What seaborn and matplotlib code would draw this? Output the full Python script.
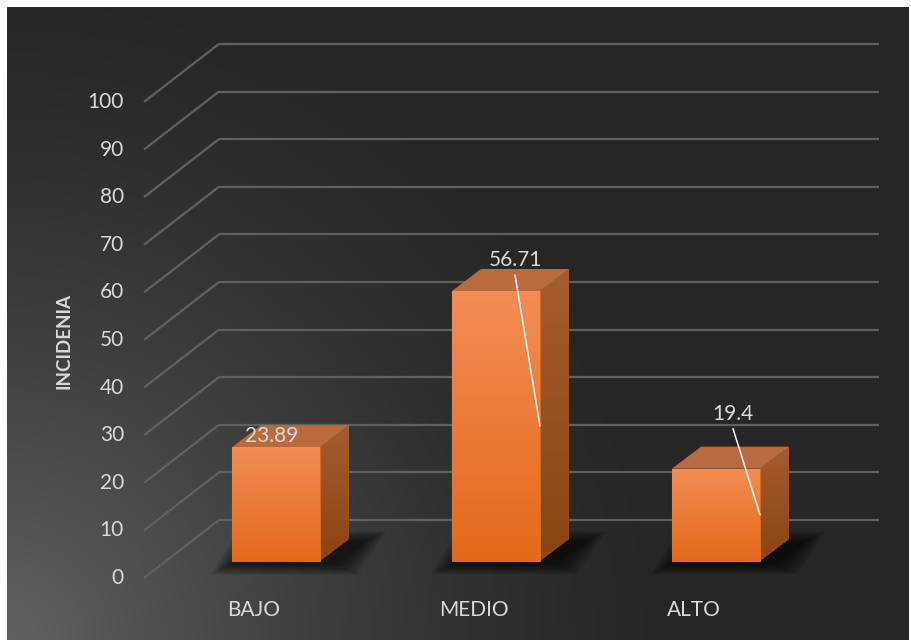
import numpy as np
import matplotlib
matplotlib.use("Agg")
import matplotlib.pyplot as plt
import seaborn as sns
from matplotlib.patches import Polygon

# ---- data -------------------------------------------------------------
categories = ["BAJO", "MEDIO", "ALTO"]
incidencia = [23.89, 56.71, 19.4]
y_ticks = [0, 10, 20, 30, 40, 50, 60, 70, 80, 90, 100]
y_title = "INCIDENIA"

# label placement (pixel offsets from the top-front centre of each bar)
label_offsets = [(-4, 11), (19, 31), (17, 55)]
label_leaders = [False, True, True]

# ---- style ------------------------------------------------------------
sns.set_theme(style="white")
plt.rcParams["font.family"] = ["Lato", "DejaVu Sans"]

W, H, DPI = 911, 640, 100
TEXT = "#d9d9d9"
GRID = "#606060"

fig = plt.figure(figsize=(W / DPI, H / DPI), dpi=DPI, facecolor="white")

# dark panel with a soft light glow in the lower-left corner
bg = fig.add_axes([7 / W, 0, 902 / W, 633 / H])
yy, xx = np.mgrid[0:633, 0:902]
r = np.hypot(xx, 632 - yy)
t = np.clip(1 - r / 680.0, 0, 1) ** 1.5
g = (38 + 60 * t) / 255.0
bg.imshow(np.dstack([g, g, g]), aspect="auto", interpolation="bilinear")
bg.set_axis_off()

# main drawing axes spanning the figure
ax = fig.add_axes([0, 0, 1, 1])
ax.patch.set_alpha(0)

sns.barplot(x=categories, y=incidencia, width=0.4, color="#f07a2a",
            saturation=1, errorbar=None, ax=ax, zorder=6,
            edgecolor="#d8661c", linewidth=0.8)

# linear mapping: category step 220 px, value unit 4.761 px, baseline 79 px
STEP, VPX, BASE, X0 = 220.0, 4.761, 79.0, 276.0
ax.set_xlim(-X0 / STEP, (W - X0) / STEP)
ax.set_ylim(-BASE / VPX, (H - BASE) / VPX)
ax.set_axis_off()

# pixel -> data conversions
ux = 1.0 / STEP
uy = 1.0 / VPX

# depth offsets (pixels) relative to the bar front plane
FRONT = (-22, -17)
BACK = (53, 41)
DEPTH = (29, 22)

x_left, x_right = -0.5, len(categories) - 0.5

# back wall grid lines and left wall diagonals
for v in y_ticks:
    ax.plot([x_left + BACK[0] * ux, x_right + BACK[0] * ux],
            [v + BACK[1] * uy] * 2, color=GRID, lw=1.6, zorder=1,
            solid_capstyle="butt")
    ax.plot([x_left + FRONT[0] * ux, x_left + BACK[0] * ux],
            [v + FRONT[1] * uy, v + BACK[1] * uy], color=GRID, lw=1.6,
            zorder=1, solid_capstyle="butt")
    ax.text(x_left + (FRONT[0] - 20) * ux, v + FRONT[1] * uy, f"{v}",
            ha="right", va="center", fontsize=15, color=TEXT)


def vgrad(top, bottom, n=64):
    top = np.array(matplotlib.colors.to_rgb(top))
    bottom = np.array(matplotlib.colors.to_rgb(bottom))
    s = np.linspace(0, 1, n)[:, None]
    return (top * (1 - s) + bottom * s)[:, None, :]


front_grad = vgrad("#f38d55", "#e4691b")
side_grad = vgrad("#a55c30", "#8a4512")

dx, dy = DEPTH[0] * ux, DEPTH[1] * uy

for i, bar in enumerate(ax.patches[:len(categories)]):
    x0, w, h = bar.get_x(), bar.get_width(), bar.get_height()
    x1 = x0 + w

    # soft shadow under the bar
    for k in range(8):
        gx, gy = (2 + 3 * k) * ux, (1 + 1.5 * k) * uy
        shadow = Polygon([(x0 - gx + 2 * ux, -gy - 2 * uy),
                          (x1 + gx + 14 * ux, -gy - 2 * uy),
                          (x1 + dx + gx + 14 * ux, dy + gy - 4 * uy),
                          (x0 + dx - gx, dy + gy - 4 * uy)],
                         closed=True, facecolor="black", edgecolor="none",
                         alpha=0.11, zorder=2)
        ax.add_patch(shadow)

    # right side face
    side = Polygon([(x1, 0), (x1 + dx, dy), (x1 + dx, h + dy), (x1, h)],
                   closed=True, facecolor="#9a5020", edgecolor="none",
                   zorder=4)
    ax.add_patch(side)
    im = ax.imshow(side_grad, extent=[x1, x1 + dx, 0, h + dy],
                   aspect="auto", zorder=4, interpolation="bilinear")
    im.set_clip_path(side)

    # top face
    ax.add_patch(Polygon([(x0, h), (x1, h), (x1 + dx, h + dy), (x0 + dx, h + dy)],
                         closed=True, facecolor="#b96a3e", edgecolor="none",
                         zorder=5))

    # front face gradient
    im = ax.imshow(front_grad, extent=[x0, x1, 0, h], aspect="auto",
                   zorder=7, interpolation="bilinear")
    im.set_clip_path(bar)

    # data label
    cx = x0 + w / 2
    ox, oy = label_offsets[i]
    lx, ly = cx + ox * ux, h + oy * uy
    ax.text(lx, ly, f"{incidencia[i]:g}", ha="center", va="center",
            fontsize=15, color=TEXT, zorder=10)
    if label_leaders[i]:
        ax.plot([lx, x1], [ly - 15 * uy, h / 2], color="white", lw=1.1,
                zorder=9)

    # category label
    ax.text(i + FRONT[0] * ux, -49 * uy, categories[i], ha="center",
            va="center", fontsize=15, color=TEXT, zorder=10)

fig.text(64 / W, 1 - 341 / H, y_title, rotation=90, ha="center",
         va="center", fontsize=13.5, fontweight="bold", color=TEXT)

fig.savefig("out.png", dpi=DPI, facecolor="white")
